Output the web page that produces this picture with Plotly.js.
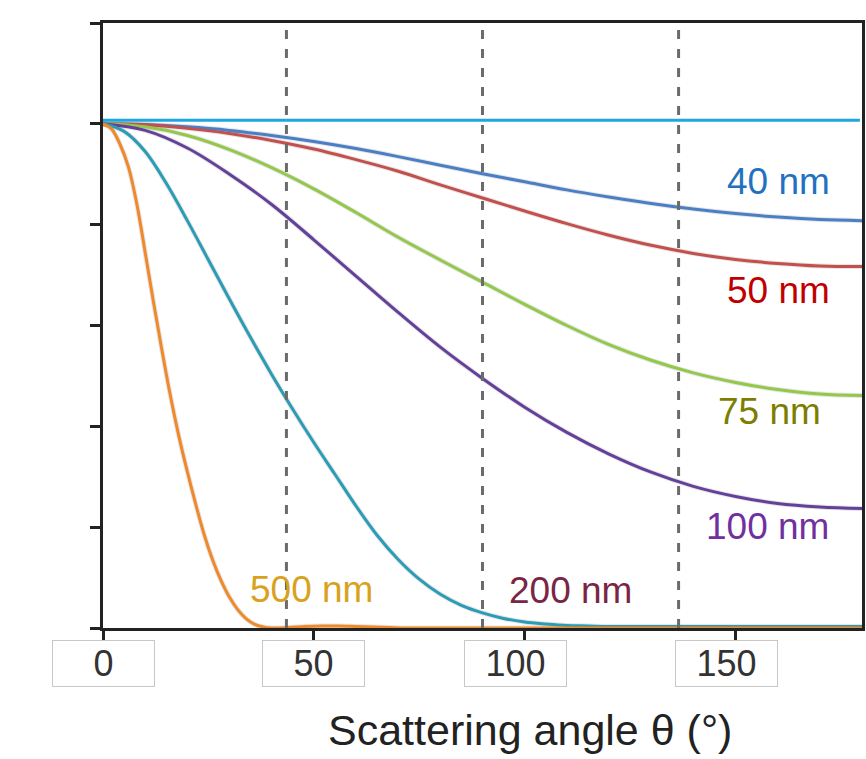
<!DOCTYPE html>
<html>
<head>
<meta charset="utf-8">
<script src="https://cdn.plot.ly/plotly-3.0.1.min.js"></script>
<style>html,body{margin:0;padding:0;background:#fff;}#chart{width:866px;height:759px;}</style>
</head>
<body>
<div id="chart"></div>
<script>
// ---- data ----
const angles = [0,10,20,30,40,50,60,70,80,90,100,110,120,130,140,150,160,170,180];
const p40  = [1.000,0.9985,0.994,0.987,0.977,0.965,0.951,0.935,0.918,0.901,0.885,0.869,0.855,0.842,0.831,0.822,0.815,0.810,0.808];
const p50  = [1.000,0.998,0.991,0.981,0.967,0.950,0.929,0.906,0.879,0.853,0.827,0.802,0.779,0.759,0.743,0.731,0.723,0.718,0.717];
const p75  = [1.000,0.994,0.977,0.949,0.913,0.871,0.824,0.775,0.730,0.686,0.642,0.600,0.562,0.531,0.506,0.487,0.473,0.464,0.461];
const p100 = [1.000,0.987,0.952,0.900,0.840,0.770,0.698,0.626,0.557,0.495,0.438,0.388,0.345,0.309,0.281,0.261,0.247,0.240,0.237];
const angles200 = [0,5,10,15,20,25,30,35,40,45,50,55,60,65,70,75,80,85,90,95,100,105,110,115,120,130,140,150,160,170,180];
const p200 = [1.0,0.985,0.945,0.882,0.808,0.730,0.652,0.576,0.503,0.434,0.368,0.305,0.242,0.184,0.136,0.097,0.067,0.045,0.030,0.019,0.012,0.008,0.005,0.004,0.003,0.003,0.003,0.003,0.003,0.003,0.003];
const angles500 = [0,2,4,6,8,10,12,14,16,18,20,22,24,26,28,30,32,34,36,38,40,44,48,52,56,60,64,68,72,80,90,120,150,180];
const p500 = [1.0,0.99,0.96,0.915,0.842,0.745,0.645,0.55,0.46,0.38,0.31,0.245,0.185,0.135,0.094,0.061,0.036,0.018,0.007,0.002,0.0,0.001,0.003,0.004,0.004,0.003,0.002,0.001,0.0,0.0,0.0,0.0,0.0,0.0];
const refAngles = [0,179.5];
const refLevel = [1.007,1.007];
const dashAngles = [43.5, 90, 136.5];
const seriesNames = ['40 nm','50 nm','75 nm','100 nm','200 nm','500 nm'];
const xTickVals = [0,50,100,150];
const xTickText = ['0','50','100','150'];
const yTickVals = [0,0.2,0.4,0.6,0.8,1.0,1.2];
const xTitle = 'Scattering angle \u03b8 (\u00b0)';

// ---- styles ----
const lineColors = ['#4a7fc6','#c4504d','#93c84a','#64409a','#2b9cb6','#f0892a'];
const textColors = ['#1f72c0','#c00000','#7d7d00','#7030a0','#7a2545','#d9a21e'];
const labelPos = [[160.2,0.885],[160.2,0.669],[158.1,0.430],[157.6,0.202],[110.9,0.075],[49.5,0.077]];
const tickShift = [0,0,-9,-9];
const FONT = 'Liberation Sans, Arial, Helvetica, sans-serif';

const xs = [angles,angles,angles,angles,angles200,angles500];
const ys = [p40,p50,p75,p100,p200,p500];

const traces = [];
xs.forEach((x,i)=>{
  traces.push({x:x,y:ys[i],mode:'lines',line:{color:'rgba(110,110,110,0.18)',width:5,shape:'spline',smoothing:1},hoverinfo:'skip',showlegend:false});
});
traces.push({x:refAngles,y:refLevel,mode:'lines',line:{color:'#1ea6e0',width:3},showlegend:false});
xs.forEach((x,i)=>{
  traces.push({x:x,y:ys[i],name:seriesNames[i],mode:'lines',line:{color:lineColors[i],width:3,shape:'spline',smoothing:1},showlegend:false});
});

const annotations = [];
seriesNames.forEach((n,i)=>{
  annotations.push({x:labelPos[i][0],y:labelPos[i][1],xref:'x',yref:'y',text:n,showarrow:false,
    font:{family:FONT,size:37,color:textColors[i]},xanchor:'center',yanchor:'middle'});
});
xTickVals.forEach((v,i)=>{
  annotations.push({x:v,y:0,xref:'x',yref:'paper',text:xTickText[i],showarrow:false,
    xanchor:'center',yanchor:'top',yshift:-12,xshift:tickShift[i],width:101,height:45,
    bgcolor:'#ffffff',bordercolor:'#c8c8c8',borderwidth:1,borderpad:0,
    font:{family:FONT,size:36,color:'#333333'}});
});
annotations.push({x:0.563,y:0,xref:'paper',yref:'paper',text:xTitle,showarrow:false,
  xanchor:'center',yanchor:'middle',yshift:-102,font:{family:FONT,size:43,color:'#222222'}});

const shapes = dashAngles.map(a=>({type:'line',xref:'x',yref:'paper',x0:a,x1:a,y0:0,y1:1,
  line:{color:'#6b6b6b',width:3,dash:'9px,10px'},layer:'above'}));

const layout = {
  width:866,height:759,
  margin:{l:103,r:4,t:23,b:131,pad:0},
  paper_bgcolor:'#ffffff',plot_bgcolor:'#ffffff',
  showlegend:false,
  xaxis:{range:[0,180],tickvals:xTickVals,showticklabels:false,ticks:'outside',ticklen:9,tickwidth:3,tickcolor:'#222',
    showline:true,linecolor:'#222',linewidth:3,mirror:true,showgrid:false,zeroline:false,fixedrange:true},
  yaxis:{range:[0,1.2],tickvals:yTickVals,showticklabels:false,ticks:'outside',ticklen:10,tickwidth:3,tickcolor:'#222',
    showline:true,linecolor:'#222',linewidth:3,mirror:true,showgrid:false,zeroline:false,fixedrange:true},
  annotations:annotations,
  shapes:shapes
};
Plotly.newPlot('chart',traces,layout,{displayModeBar:false,staticPlot:true});
</script>
</body>
</html>
